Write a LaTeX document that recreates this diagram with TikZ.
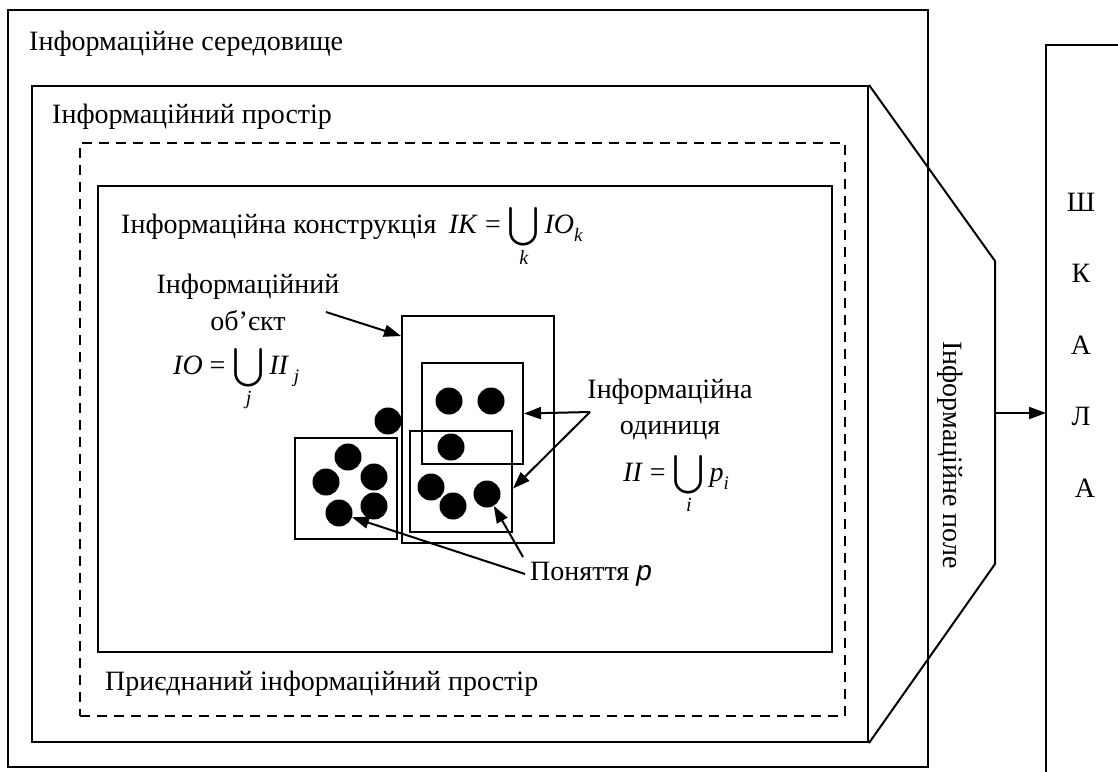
\documentclass[tikz,border=0pt]{standalone}
\usepackage{amsmath}
\usepackage{fontspec}
\setmainfont{Liberation Serif}
\newfontfamily\sanspfont{Liberation Sans}
\usetikzlibrary{positioning,fit,arrows.meta}

\tikzstyle{frame} = [draw=black, line width=2pt, inner sep=0pt]
\tikzstyle{dframe} = [draw=black, line width=2.6pt, dash pattern=on 10pt off 7pt, inner sep=0pt]
\tikzstyle{dot} = [circle, fill=black, minimum size=27pt, inner sep=0pt]
\tikzstyle{t} = [inner sep=0pt, font=\fontsize{28}{32}\selectfont]
\tikzstyle{arr} = [-{Triangle[length=17pt,width=12pt]}, line width=2pt]

\newcommand{\ucup}[1]{$\displaystyle\mathop{\smash[t]{\vcenter{\hbox{\scalebox{1.55}{$\bigcup$}}}}}\limits_{\mbox{\fontsize{20}{20}\selectfont\itshape #1}}$}
\newcommand{\lsub}[1]{\raisebox{-0.3em}{\fontsize{19}{19}\selectfont\itshape #1}}

\begin{document}
\begin{tikzpicture}[x=1pt,y=-1pt]
        \useasboundingbox (0,0) rectangle (1118,771);
        % nested areas
        \node[frame, fit={(8,10) (928,767)}] (env) {};
        \node[frame, fit={(32,86) (868,742)}] (space) {};
        \node[dframe, fit={(80,143) (845,716)}] (attached) {};
        \node[frame, fit={(98,186) (832,652)}] (constr) {};
        \node[t, anchor=base west] (envn) at (29,50) {Інформаційне середовище};
        \node[t, anchor=base west] (spacen) at (52,123) {Інформаційний простір};
        \node[t, anchor=base west] (attn) at (105,690) {Приєднаний інформаційний простір};
        \node[t, anchor=base west] (constrn) at (121,233) {Інформаційна конструкція};
        \node[t, anchor=base west] (constrf) [right=12pt of constrn.base east, anchor=base west] {\textit{IK} = \ucup{k}\,\textit{IO}\lsub{k}};
        % information field and scale
        \coordinate (ft) at (995,261);
        \coordinate (fb) at (995,564);
        \coordinate (fo) at (995,413);
        \coordinate (sb) at (1046,780);
        \coordinate (st) at (1130,45);
        \draw[line width=2pt] (space.north east) -- (ft) -- (fb) -- (space.south east);
        \node[t, rotate=-90] (field) at (950,455) {Інформаційне поле};
        \draw[line width=2pt] (sb) |- (st);
        \draw[arr] (fo) -- (fo -| sb);
        \node[t] (s1) at (1081,202) {Ш};
        \node[t] (s2) [below of=s1, node distance=71.5pt] {К};
        \node[t] (s3) [below of=s2, node distance=71.5pt] {А};
        \node[t] (s4) [below of=s3, node distance=71.5pt] {Л};
        \node[t] (s5) [below of=s4, node distance=71.5pt, xshift=4pt] {А};
        % object and units
        \node[frame, fit={(402,316) (554,543)}] (obj) {};
        \node[frame, fit={(422,363) (523,464)}] (unit1) {};
        \node[frame, fit={(410,431) (512,532)}] (unit2) {};
        \node[frame, fit={(295,438) (397,539)}] (unit3) {};
        \node[dot] (d1) at (449,401) {};
        \node[dot] (d2) at (491,401) {};
        \node[dot] (d3) at (451,447) {};
        \node[dot] (d4) at (388,421) {};
        \node[dot] (d5) at (431,487) {};
        \node[dot] (d6) at (453,506) {};
        \node[dot] (d7) at (487,494) {};
        \node[dot] (d8) at (348,457) {};
        \node[dot] (d9) at (326,482) {};
        \node[dot] (d10) at (374,477) {};
        \node[dot] (d11) at (374,506) {};
        \node[dot] (d12) at (339,513) {};
        % labels
        \node[t, anchor=base] (objn) at (248,293) {Інформаційний};
        \node[t, anchor=base] (objn2) at (248,330) {об’єкт};
        \node[t, anchor=base west] (objf) at (173,374) {\textit{IO} = \ucup{j}\,\textit{II}\,\lsub{j}};
        \node[t, anchor=base] (unitn) at (670,398) {Інформаційна};
        \node[t, anchor=base] (unitn2) at (670,434) {одиниця};
        \node[t, anchor=base west] (unitf) at (623,481) {\textit{II} = \ucup{i}\,\textit{p}\lsub{i}};
        \node[t, anchor=base west] (pn) at (530,580) {Поняття {\sanspfont\itshape p}};
        \coordinate (objsrc) at (326,312);
        \coordinate (unitsrc) at (590,412);
        \coordinate (pn1) at (523,557);
        \coordinate (pn2) at (525,574);
        \draw[arr] (objsrc) -- ([yshift=-21pt]obj.north west);
        \draw[arr] (unitsrc) -- (unit1.east);
        \draw[arr] (unitsrc) -- ([yshift=-7pt]unit2.east);
        \draw[arr] (pn1) -- (d7);
        \draw[arr] (pn2) -- (d12);
\end{tikzpicture}
\end{document}
